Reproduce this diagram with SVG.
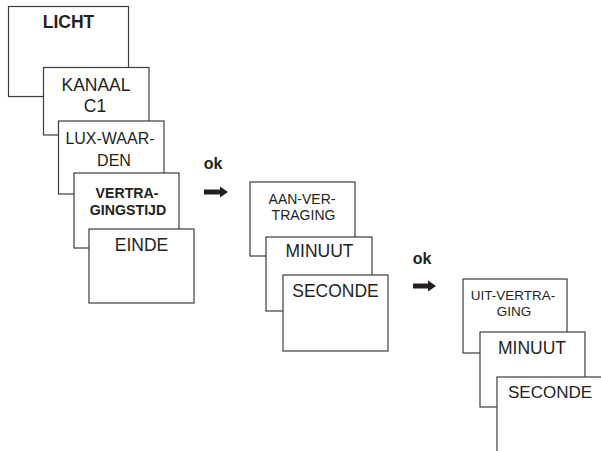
<svg xmlns="http://www.w3.org/2000/svg" width="601" height="451" viewBox="0 0 601 451">
<style>
.box{fill:#fff;stroke:#3c3c3c;stroke-width:1.2}
.t{font-family:"Liberation Sans",Arial,sans-serif;fill:#231f20;text-anchor:middle}
.b{font-weight:bold}
.arrow{fill:#231f20}
</style>
<rect width="601" height="451" fill="#fff"/>
<g id="licht"><rect class="box" x="8.5" y="6.5" width="120" height="90"/><text class="t b" x="68.5" y="28" font-size="17.5">LICHT</text></g>
<g id="kanaal"><rect class="box" x="43.5" y="67.5" width="105.5" height="67.5"/><text class="t" x="96" y="91" font-size="17.5">KANAAL</text><text class="t" x="95" y="112" font-size="17.5">C1</text></g>
<g id="luxwaarden"><rect class="box" x="58.5" y="121" width="105.5" height="73"/><text class="t" x="110" y="144" font-size="16">LUX-WAAR-</text><text class="t" x="114" y="166" font-size="16">DEN</text></g>
<g id="vertragingstijd"><rect class="box" x="74" y="173" width="105" height="75"/><text class="t b" x="127" y="198" font-size="14.2">VERTRA-</text><text class="t b" x="128" y="214.5" font-size="14.2">GINGSTIJD</text></g>
<g id="einde"><rect class="box" x="89" y="229" width="105" height="74"/><text class="t" x="141.5" y="251" font-size="17.5">EINDE</text></g>
<g id="aanvertraging"><rect class="box" x="250" y="182" width="105" height="74"/><text class="t" x="302" y="204" font-size="14">AAN-VER-</text><text class="t" x="303.5" y="220" font-size="14">TRAGING</text></g>
<g id="minuut1"><rect class="box" x="266" y="237" width="106" height="74"/><text class="t" x="319.5" y="257" font-size="17.5">MINUUT</text></g>
<g id="seconde1"><rect class="box" x="283" y="275" width="105" height="76"/><text class="t" x="335.5" y="297" font-size="17.5">SECONDE</text></g>
<g id="uitvertraging"><rect class="box" x="463" y="279" width="104" height="74"/><text class="t" x="513" y="300" font-size="13.5">UIT-VERTRA-</text><text class="t" x="514" y="316" font-size="13.5">GING</text></g>
<g id="minuut2"><rect class="box" x="480" y="332" width="105" height="75"/><text class="t" x="532" y="354" font-size="17.5">MINUUT</text></g>
<g id="seconde2"><rect class="box" x="497" y="377" width="110" height="80"/><text class="t" x="550" y="398" font-size="17">SECONDE</text></g>
<g id="connectors">
<text class="t b" x="213" y="169" font-size="16">ok</text>
<polygon class="arrow" points="204,189.5 220,189.5 220,186.5 228,192 220,197.5 220,194.5 204,194.5"/>
<text class="t b" x="422" y="264" font-size="16">ok</text>
<polygon class="arrow" points="413,283.5 428,283.5 428,280.5 436,286 428,291.5 428,288.5 413,288.5"/>
</g>
</svg>
